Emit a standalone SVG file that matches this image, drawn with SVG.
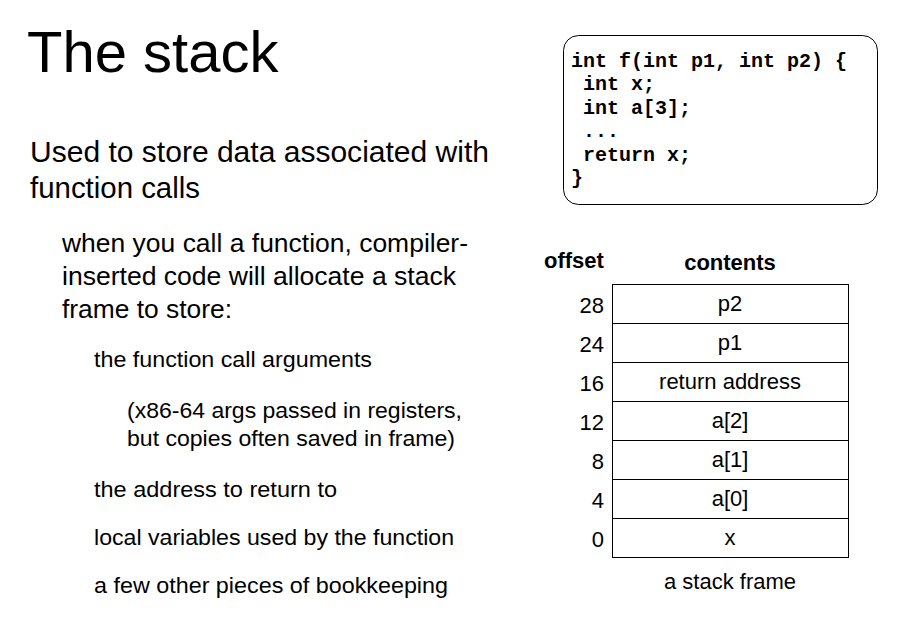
<svg xmlns="http://www.w3.org/2000/svg" width="899" height="625" viewBox="0 0 899 625">
<style>
text{font-family:"Liberation Sans",Arial,sans-serif;fill:#000}
.code{font-family:"Liberation Mono","Courier New",monospace;font-weight:bold;font-size:20px}
.cell{fill:#fff;stroke:#000;stroke-width:1}
.num{font-size:22px;text-anchor:end}
.ctr{font-size:22px;text-anchor:middle}
.hdr{font-size:22px;font-weight:bold}
.l1{font-size:29.5px}
.l2{font-size:26px}
.l3{font-size:22.5px}
</style>
<rect width="899" height="625" fill="#fff"/>
<g id="slide-text">
<text x="27" y="72" font-size="58">The stack</text>
<text class="l1" x="30" y="162" textLength="459" lengthAdjust="spacingAndGlyphs">Used to store data associated with</text>
<text class="l1" x="30" y="198" textLength="170" lengthAdjust="spacingAndGlyphs">function calls</text>
<text class="l2" x="62" y="252" textLength="406" lengthAdjust="spacingAndGlyphs">when you call a function, compiler-</text>
<text class="l2" x="62" y="285" textLength="394" lengthAdjust="spacingAndGlyphs">inserted code will allocate a stack</text>
<text class="l2" x="62" y="318" textLength="170" lengthAdjust="spacingAndGlyphs">frame to store:</text>
<text class="l3" x="94" y="367" textLength="278" lengthAdjust="spacingAndGlyphs">the function call arguments</text>
<text class="l3" x="127" y="418" textLength="335" lengthAdjust="spacingAndGlyphs">(x86-64 args passed in registers,</text>
<text class="l3" x="127" y="446" textLength="328" lengthAdjust="spacingAndGlyphs">but copies often saved in frame)</text>
<text class="l3" x="94" y="497" textLength="243" lengthAdjust="spacingAndGlyphs">the address to return to</text>
<text class="l3" x="94" y="545" textLength="360" lengthAdjust="spacingAndGlyphs">local variables used by the function</text>
<text class="l3" x="94" y="593" textLength="354" lengthAdjust="spacingAndGlyphs">a few other pieces of bookkeeping</text>
</g>
<g id="code-box">
<rect x="563.5" y="35.5" width="314" height="169" rx="15" ry="15" fill="#fff" stroke="#000" stroke-width="1"/>
<text class="code" x="571" y="67">int f(int p1, int p2) {</text>
<text class="code" x="583" y="90">int x;</text>
<text class="code" x="583" y="114">int a[3];</text>
<text class="code" x="583" y="137">...</text>
<text class="code" x="583" y="161">return x;</text>
<text class="code" x="571" y="184">}</text>
</g>
<g id="stack-frame">
<text class="hdr" x="544" y="268">offset</text>
<text class="hdr" x="730" y="270" text-anchor="middle">contents</text>
<g id="row-28"><rect class="cell" x="612.5" y="284.5" width="236" height="39"/><text class="num" x="604" y="313">28</text><text class="ctr" x="730" y="311">p2</text></g>
<g id="row-24"><rect class="cell" x="612.5" y="323.5" width="236" height="39"/><text class="num" x="604" y="352">24</text><text class="ctr" x="730" y="350">p1</text></g>
<g id="row-16"><rect class="cell" x="612.5" y="362.5" width="236" height="39"/><text class="num" x="604" y="391">16</text><text class="ctr" x="730" y="389">return address</text></g>
<g id="row-12"><rect class="cell" x="612.5" y="401.5" width="236" height="39"/><text class="num" x="604" y="430">12</text><text class="ctr" x="730" y="428">a[2]</text></g>
<g id="row-8"><rect class="cell" x="612.5" y="440.5" width="236" height="39"/><text class="num" x="604" y="469">8</text><text class="ctr" x="730" y="467">a[1]</text></g>
<g id="row-4"><rect class="cell" x="612.5" y="479.5" width="236" height="39"/><text class="num" x="604" y="508">4</text><text class="ctr" x="730" y="506">a[0]</text></g>
<g id="row-0"><rect class="cell" x="612.5" y="518.5" width="236" height="39"/><text class="num" x="604" y="547">0</text><text class="ctr" x="730" y="545">x</text></g>
<text class="ctr" x="730" y="589">a stack frame</text>
</g>
</svg>
